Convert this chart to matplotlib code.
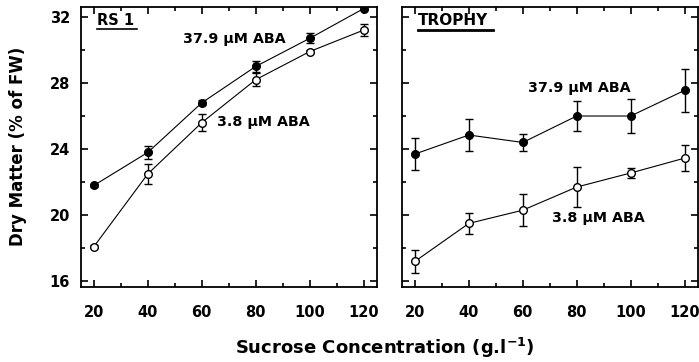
import matplotlib.pyplot as plt
from matplotlib.ticker import MultipleLocator

plt.rcParams['font.family'] = ['DejaVu Sans']
plt.rcParams['font.weight'] = 'bold'

sucrose = [20, 40, 60, 80, 100, 120]

# RS 1
rs1_high = [21.8, 23.8, 26.8, 29.0, 30.7, 32.5]
rs1_high_err = [0.1, 0.38, 0.15, 0.35, 0.3, 0.1]
rs1_low = [18.1, 22.5, 25.6, 28.2, 29.9, 31.2]
rs1_low_err = [0.1, 0.6, 0.5, 0.4, 0.1, 0.35]

# TROPHY
tro_high = [23.7, 24.85, 24.4, 26.0, 26.0, 27.55]
tro_high_err = [0.95, 0.95, 0.5, 0.9, 1.05, 1.3]
tro_low = [17.2, 19.5, 20.3, 21.7, 22.55, 23.45]
tro_low_err = [0.7, 0.65, 0.95, 1.2, 0.3, 0.8]

fig = plt.figure(figsize=(6.99, 3.62), dpi=100)
ax1 = fig.add_axes([0.1159, 0.2072, 0.4235, 0.7735])
ax2 = fig.add_axes([0.5751, 0.2072, 0.4235, 0.7735])


def draw_panel(ax, high, high_err, low, low_err):
    ax.errorbar(sucrose, high, yerr=high_err, fmt='-o', color='black', lw=0.8,
                ms=5.5, mfc='black', mec='black', capsize=3, elinewidth=1.0, capthick=1.0)
    ax.errorbar(sucrose, low, yerr=low_err, fmt='-o', color='black', lw=0.8,
                ms=5.5, mfc='white', mec='black', mew=1.0, capsize=3, elinewidth=1.0,
                capthick=1.0)
    ax.set_ylim(15.65, 32.6)
    ax.set_xlim(15.2, 125)
    ax.set_yticks([16, 20, 24, 28, 32])
    ax.yaxis.set_minor_locator(MultipleLocator(2))
    ax.set_xticks(sucrose)
    ax.xaxis.set_minor_locator(MultipleLocator(10))
    ax.tick_params(which='both', direction='in', top=True, right=True, width=1.2)
    ax.tick_params(which='major', length=5, labelsize=10.5)
    ax.tick_params(axis='x', which='major', pad=13)
    ax.tick_params(axis='y', which='major', pad=8)
    ax.tick_params(which='minor', length=3)
    for s in ax.spines.values():
        s.set_linewidth(1.3)
    for lab in ax.get_xticklabels() + ax.get_yticklabels():
        lab.set_fontweight('bold')


draw_panel(ax1, rs1_high, rs1_high_err, rs1_low, rs1_low_err)
draw_panel(ax2, tro_high, tro_high_err, tro_low, tro_low_err)
ax2.tick_params(labelleft=False)

ax1.text(0.054, 0.978, 'RS 1', transform=ax1.transAxes, fontsize=10.5, va='top', ha='left')
ax1.plot([0.054, 0.19], [0.921, 0.921], transform=ax1.transAxes, color='black', lw=1.2)
ax1.text(0.345, 0.886, '37.9 μM ABA', transform=ax1.transAxes, fontsize=10.3, va='center')
ax1.text(0.459, 0.589, '3.8 μM ABA', transform=ax1.transAxes, fontsize=10.3, va='center')

ax2.text(0.054, 0.978, 'TROPHY', transform=ax2.transAxes, fontsize=11, va='top', ha='left')
ax2.plot([0.054, 0.308], [0.918, 0.918], transform=ax2.transAxes, color='black', lw=2)
ax2.text(0.426, 0.711, '37.9 μM ABA', transform=ax2.transAxes, fontsize=10.3, va='center')
ax2.text(0.507, 0.246, '3.8 μM ABA', transform=ax2.transAxes, fontsize=10.3, va='center')

fig.text(0.026, 0.597, 'Dry Matter (% of FW)', rotation=90, fontsize=12,
         ha='center', va='center')
fig.text(0.551, 0.039, 'Sucrose Concentration (g.l$^{\\mathbf{-1}}$)', fontsize=13,
         ha='center', va='center')

fig.savefig('out.png', dpi=100)
